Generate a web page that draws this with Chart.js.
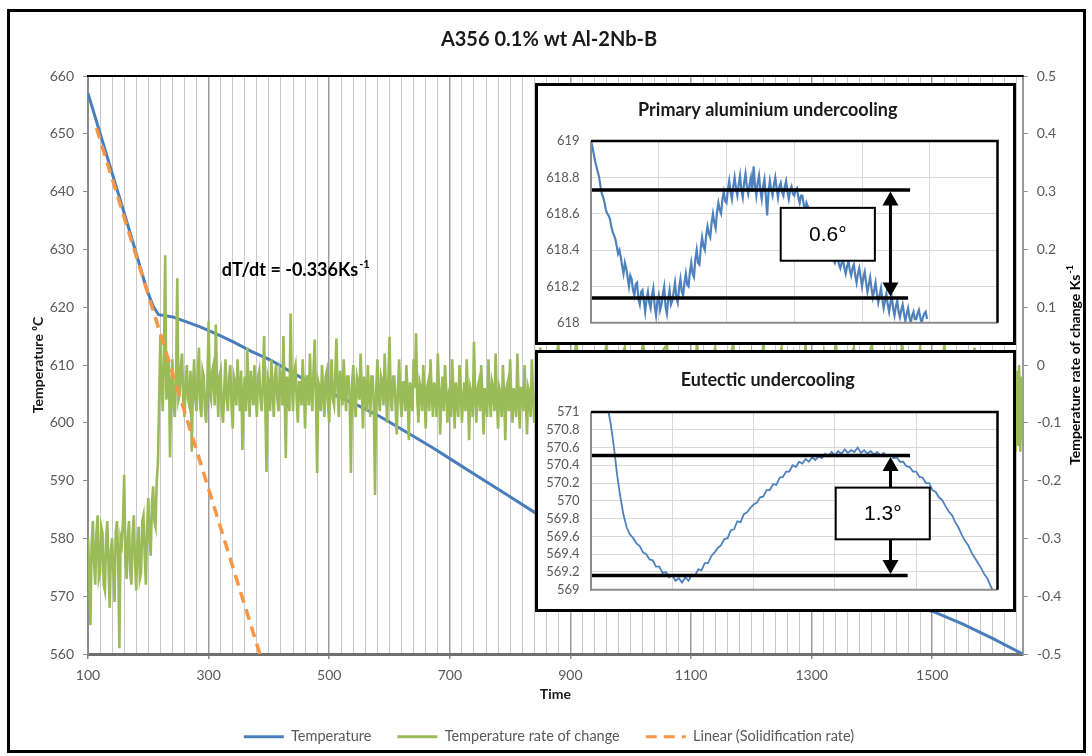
<!DOCTYPE html>
<html><head><meta charset="utf-8">
<script src="https://cdn.jsdelivr.net/npm/chart.js@4.4.1/dist/chart.umd.min.js"></script>
<style>
html,body{margin:0;padding:0;background:#fff;}
#page{position:relative;width:1092px;height:756px;overflow:hidden;background:#fff;}
#frame{position:absolute;left:7px;top:9px;width:1079px;height:744px;border:3px solid #000;box-sizing:border-box;pointer-events:none;}
#main{position:absolute;left:0;top:0;}
.inset{position:absolute;left:535px;width:481px;height:262px;border:3px solid #000;box-sizing:border-box;background:#fff;}
.inset canvas{position:absolute;left:0;top:0;}
</style></head>
<body><div id="page">
<canvas id="main" width="1092" height="756"></canvas>
<div class="inset" style="top:83px"><canvas id="c1" width="475" height="256"></canvas></div>
<div class="inset" style="top:350px"><canvas id="c2" width="475" height="256"></canvas></div>
<div id="frame"></div>
</div>
<script>
const FONT = 'Lato, "Liberation Sans", sans-serif';

// ---------- main chart data ----------
const chartTitle = 'A356 0.1% wt Al-2Nb-B';
const seriesNames = ['Temperature', 'Temperature rate of change', 'Linear (Solidification rate)'];
const xTickValues = [100, 300, 500, 700, 900, 1100, 1300, 1500];
const yLeftTicks = [560, 570, 580, 590, 600, 610, 620, 630, 640, 650, 660];
const yRightTicks = [-0.5, -0.4, -0.3, -0.2, -0.1, 0, 0.1, 0.2, 0.3, 0.4, 0.5];
const yRightLabels = ['-0.5', '-0.4', '-0.3', '-0.2', '-0.1', '0', '0.1', '0.2', '0.3', '0.4', '0.5'];

// Temperature (left axis)
const tempTime = [100,120,140,160,180,197,208,217,241,260,286,310,341,370,402,440,480,520,550,584,618,673,700,750,800,845,900,1000,1100,1200,1300,1400,1450,1503,1550,1600,1650];
const tempValue = [657.0,650.1,643.2,636.3,629.3,623.2,620.2,618.7,618.3,617.6,616.6,615.5,614.0,612.4,610.9,608.6,606.3,604.3,602.9,601.1,599.0,595.6,593.8,590.5,587.2,584.2,581.0,576.5,573.2,571.2,570.3,569.4,568.7,567.3,565.2,562.7,560.0];

// Temperature rate of change (right axis), sampled in three runs
const rateRunA = {start: 100, step: 2, values: [
 -0.30,-0.35,-0.45,-0.31,-0.27,-0.34,-0.38,-0.29,-0.26,-0.37,-0.36,-0.28,-0.29,-0.38,-0.39,-0.30,-0.27,-0.35,-0.42,-0.32,
 -0.30,-0.36,-0.41,-0.29,-0.27,-0.33,-0.49,-0.30,-0.31,-0.27,-0.19,-0.33,-0.37,-0.30,-0.27,-0.36,-0.38,-0.29,-0.26,-0.34,
 -0.39,-0.31,-0.28,-0.37,-0.36,-0.27,-0.26,-0.33,-0.38,-0.28,-0.23,-0.30,-0.33,-0.24,-0.21,-0.27,-0.28,-0.20,-0.17,-0.06,
 0.05,-0.04,-0.08,0.02,0.19,-0.06,-0.03,0.01,-0.16,-0.05,0.01,-0.07,-0.09,-0.02,0.15,-0.06,-0.05,0.00,0.02,-0.06,
 -0.09,-0.03,0.00,-0.06,-0.07,-0.01,-0.15,-0.04,0.01,-0.06,-0.08,-0.02,0.03,-0.07,-0.09,-0.01,-0.02,-0.08,-0.10,-0.03,
 0.075,-0.05,-0.06,-0.01,0.00,-0.07,0.07,-0.03,-0.09,-0.02,-0.01,-0.08,-0.10,-0.04,0.01,-0.06,-0.08,-0.02,0.00,-0.07,
 -0.11,-0.02,-0.03,-0.07,0.01,-0.04,-0.08,-0.01,-0.147,-0.05,-0.02,-0.08,0.03,-0.04,-0.09,-0.01,-0.04,-0.07,0.00,-0.05,
 -0.09,-0.02,-0.01,-0.06,-0.08,-0.03,0.05,-0.07,-0.185,-0.02,-0.03,-0.08,0.01,-0.04,-0.09,-0.02,0.00,-0.06,-0.08,-0.01,
 -0.02,-0.07,0.05,-0.04,-0.161,-0.02,-0.04,-0.08,0.089,-0.03,-0.08,-0.01,0.00,-0.06,-0.10,-0.03,-0.03,-0.07,0.01,-0.04,
 -0.11,-0.02,-0.02,-0.07,0.02,-0.05,-0.08,-0.01,0.044,-0.06,-0.187,-0.03,-0.04,-0.08,0.00,-0.05,-0.09,-0.02,-0.01,-0.07,
 -0.10,-0.03,0.01,-0.06,-0.07,-0.02,0.046,-0.05,-0.09,-0.01,-0.03,-0.07,0.01,-0.04,-0.08,-0.02,-0.02,-0.06,-0.187,-0.03,
 0.00,-0.07,-0.09,-0.02,-0.03,-0.06,0.02,-0.04,-0.11,-0.02,-0.04,-0.08,0.00,-0.05,-0.09,-0.02,-0.02,-0.07,-0.225,-0.04,
 0.01,-0.06,-0.08,-0.02,-0.03,-0.07,0.02,-0.04,-0.10,-0.03,0.049,-0.06,-0.08,-0.02,-0.02,-0.07,-0.12,-0.04,0.01,-0.06,
 -0.09,-0.03,-0.03,-0.08,0.00,-0.05,-0.13,-0.03,-0.05,-0.08,0.01,-0.04,0.055,-0.06,-0.10,-0.03,-0.04,-0.08,0.00,-0.05,
 -0.11,-0.04,-0.03,-0.08,0.01,-0.05,-0.09,-0.03,-0.05,-0.09,0.02,-0.04,-0.12,-0.05,-0.02,-0.08,0.00,-0.04,-0.10,-0.05,
 -0.04,-0.09,0.01,-0.05,-0.11,-0.03,-0.06,-0.09,0.00,-0.04,-0.10,-0.06,-0.03,-0.08,0.01,-0.05,-0.13,-0.04,-0.05,-0.09,
 0.04,-0.05,-0.10,-0.04,-0.03,-0.08,0.00,-0.05,-0.12,-0.04,-0.06,-0.09,0.01,-0.05,-0.09,-0.03,-0.04,-0.08,0.02,-0.06,
 -0.11,-0.04,-0.05,-0.09,0.00,-0.05,-0.13,-0.04,-0.03,-0.08,0.01,-0.06,-0.10,-0.04,-0.06,-0.09,0.02,-0.05,-0.11,-0.04,
 -0.04,-0.08,0.00,-0.06,-0.12,-0.04,-0.05,-0.09,0.01,-0.05,-0.10,-0.06,-0.04]};
const rateRunB = {start: 850, step: 10, values: [
 0.03,-0.10,-0.02,0.035,-0.11,-0.03,0.04,-0.09,0.01,-0.12,
 -0.02,0.035,-0.10,0.00,0.03,-0.08,-0.11,0.04,-0.03,-0.10,
 0.02,0.035,-0.12,-0.02,0.01,-0.09,0.04,-0.11,-0.03,0.03,
 -0.10,0.00,0.035,-0.12,-0.04,0.02,-0.09,0.04,-0.10,-0.02,
 0.03,-0.11,0.01,-0.08,0.035,-0.12,-0.03,0.02,-0.10,0.04,
 -0.09,-0.02,0.03,-0.12,0.00,0.035,-0.11,-0.04,0.02,-0.10,
 0.04,-0.08,-0.03,0.03,-0.12,0.01,-0.10,0.035,-0.05,-0.13,
 0.02,-0.09,0.03,-0.12,-0.02,0.01,-0.14,-0.03,0.00]};
const rateRunC = {start: 1632, step: 2, values: [-0.03,-0.12,0.00,-0.15,-0.01,-0.14,0.00,-0.15,-0.02,-0.13]};

// Linear trend line (Solidification rate) on the temperature axis
const linearTime = [114, 385];
const linearValue = [651.0, 560.0];

// ---------- inset data ----------
const inset1Title = 'Primary aluminium undercooling';
const inset1Time = {start: 0, step: 2};
const inset1Value = [
 619.00,618.97,618.93,618.89,618.86,618.83,618.80,618.75,618.71,618.69,618.66,618.62,618.60,618.59,618.57,618.53,618.50,618.48,618.46,618.42,
 618.38,618.40,618.36,618.31,618.27,618.33,618.30,618.25,618.20,618.26,618.24,618.18,618.15,618.21,618.22,618.13,618.10,618.17,618.18,618.12,
 618.06,618.13,618.17,618.11,618.08,618.15,618.19,618.09,618.04,618.12,618.15,618.07,618.10,618.16,618.20,618.09,618.05,618.13,618.18,618.10,
 618.12,618.17,618.22,618.14,618.11,618.19,618.24,618.17,618.15,618.22,618.27,618.21,618.20,618.28,618.33,618.27,618.25,618.35,618.40,618.33,
 618.32,618.41,618.47,618.42,618.40,618.48,618.53,618.49,618.47,618.55,618.60,618.55,618.52,618.61,618.66,618.62,618.60,618.68,618.72,618.67,
 618.66,618.73,618.78,618.72,618.68,618.75,618.80,618.74,618.70,618.76,618.81,618.73,618.69,618.77,618.82,618.75,618.71,618.76,618.80,618.72,
 618.86,618.76,618.70,618.77,618.81,618.73,618.68,618.75,618.79,618.70,618.59,618.72,618.78,618.73,618.70,618.76,618.80,618.74,618.69,618.75,
 618.77,618.72,618.70,618.75,618.78,618.72,618.68,618.73,618.75,618.71,618.70,618.73,618.74,618.69,618.66,618.70,618.70,618.65,618.62,618.66,
 618.64,618.61,618.60,618.59,618.57,618.55,618.55,618.52,618.50,618.50,618.48,618.45,618.44,618.44,618.42,618.40,618.39,618.38,618.37,618.35,
 618.33,618.36,618.37,618.32,618.30,618.33,618.35,618.30,618.27,618.31,618.34,618.29,618.26,618.30,618.32,618.26,618.22,618.27,618.30,618.25,
 618.20,618.25,618.28,618.22,618.17,618.21,618.25,618.19,618.14,618.18,618.22,618.16,618.11,618.15,618.19,618.13,618.08,618.12,618.16,618.10,
 618.06,618.11,618.14,618.08,618.04,618.09,618.12,618.06,618.03,618.07,618.10,618.05,618.01,618.05,618.08,618.03,618.00,618.04,618.06,618.02,
 618.02,618.05,618.07,618.03,618.00,618.03,618.05,618.06,618.02];
const inset1YTicks = [618, 618.2, 618.4, 618.6, 618.8, 619];
const inset1YLabels = ['618', '618.2', '618.4', '618.6', '618.8', '619'];
const inset1XGrid = [0, 100, 200, 300, 400, 500, 600];
const inset1Levels = [618.731, 618.136];
const inset1Label = '0.6°';

const inset2Title = 'Eutectic undercooling';
const inset2Time = {start: 20, step: 4};
const inset2Value = [
 571.08,570.88,570.62,570.30,570.05,569.84,569.70,569.62,569.58,569.52,
 569.49,569.42,569.40,569.34,569.33,569.26,569.26,569.19,569.20,569.14,
 569.16,569.10,569.13,569.08,569.14,569.10,569.17,569.16,569.23,569.22,
 569.30,569.30,569.38,569.42,569.47,569.50,569.57,569.58,569.67,569.68,
 569.77,569.76,569.85,569.87,569.92,569.96,569.98,570.04,570.05,570.12,
 570.12,570.19,570.18,570.26,570.27,570.33,570.33,570.40,570.38,570.44,
 570.42,570.47,570.44,570.49,570.46,570.50,570.48,570.53,570.50,570.55,
 570.51,570.56,570.53,570.58,570.54,570.57,570.55,570.60,570.54,570.57,
 570.53,570.56,570.52,570.55,570.51,570.54,570.50,570.52,570.48,570.49,
 570.44,570.44,570.39,570.38,570.33,570.33,570.27,570.26,570.20,570.20,
 570.12,570.10,570.04,570.01,569.94,569.88,569.84,569.76,569.70,569.62,
 569.55,569.50,569.42,569.36,569.30,569.24,569.17,569.12,569.03,568.97];
const inset2YTicks = [569, 569.2, 569.4, 569.6, 569.8, 570, 570.2, 570.4, 570.6, 570.8, 571];
const inset2YLabels = ['569', '569.2', '569.4', '569.6', '569.8', '570', '570.2', '570.4', '570.6', '570.8', '571'];
const inset2XGrid = [0, 100, 200, 300, 400, 500];
const inset2Levels = [570.51, 569.16];
const inset2Label = '1.3°';

// ---------- helpers ----------
function runPoints(run) {
  return run.values.map((v, i) => ({x: run.start + i * run.step, y: v}));
}
function pairPoints(xs, ys) { return xs.map((x, i) => ({x: x, y: ys[i]})); }

Chart.defaults.font.family = FONT;
Chart.defaults.animation = false;

// ---------- main chart ----------
const mainDecor = {
  id: 'mainDecor',
  afterDatasetsDraw(chart, args, o) {
    const {ctx, chartArea: a, scales} = chart;
    ctx.save();
    ctx.strokeStyle = '#000'; ctx.lineWidth = 2;
    ctx.beginPath(); ctx.moveTo(a.left - 1, a.top); ctx.lineTo(a.right + 1, a.top); ctx.stroke();
    // dT/dt note
    const px = scales.x.getPixelForValue(o.note.x), py = scales.y.getPixelForValue(o.note.y);
    ctx.fillStyle = '#000'; ctx.textAlign = 'left'; ctx.textBaseline = 'alphabetic';
    ctx.font = 'bold 18px ' + FONT;
    ctx.fillText(o.note.text, px, py);
    const w = ctx.measureText(o.note.text).width;
    ctx.font = 'bold 11px ' + FONT;
    ctx.fillText(o.note.sup, px + w + 1, py - 8);
    // right axis title (reads bottom to top)
    ctx.translate(o.rightTitle.x, (a.top + a.bottom) / 2);
    ctx.rotate(-Math.PI / 2);
    ctx.font = 'bold 14px ' + FONT;
    const w1 = ctx.measureText(o.rightTitle.text).width;
    ctx.font = 'bold 9px ' + FONT;
    const w2 = ctx.measureText(o.rightTitle.sup).width;
    const x0 = -(w1 + w2 + 1) / 2;
    ctx.textBaseline = 'middle';
    ctx.font = 'bold 14px ' + FONT;
    ctx.fillText(o.rightTitle.text, x0, 0);
    ctx.font = 'bold 9px ' + FONT;
    ctx.fillText(o.rightTitle.sup, x0 + w1 + 1, -5);
    ctx.restore();
  }
};

const isMajor = v => xTickValues.includes(v);
const xGrid = [];
for (let v = 100; v <= 1640; v += 20) xGrid.push(v);

new Chart(document.getElementById('main'), {
  type: 'line',
  data: {
    datasets: [
      {label: seriesNames[0], data: pairPoints(tempTime, tempValue), yAxisID: 'y',
       borderColor: '#4a7ebb', borderWidth: 3, pointRadius: 0, tension: 0, order: 3},
      {label: seriesNames[1], data: [...runPoints(rateRunA), ...runPoints(rateRunB), ...runPoints(rateRunC)], yAxisID: 'y2',
       borderColor: '#9bbb59', borderWidth: 2.6, pointRadius: 0, tension: 0, order: 2},
      {label: seriesNames[2], data: pairPoints(linearTime, linearValue), yAxisID: 'y',
       borderColor: '#f79646', borderWidth: 3.5, borderDash: [11, 7], pointRadius: 0, order: 1}
    ]
  },
  options: {
    responsive: false, devicePixelRatio: 1, animation: false,
    layout: {padding: {left: 10, right: 4, top: 10, bottom: 2}},
    plugins: {
      tooltip: {enabled: false},
      title: {display: true, text: chartTitle, color: '#1a1a1a', font: {size: 20, weight: 'bold'}, padding: {top: 18, bottom: 24}},
      legend: {
        position: 'bottom',
        labels: {
          usePointStyle: true, pointStyleWidth: 40, padding: 26, color: '#595959', font: {size: 14.5},
          generateLabels: chart => chart.data.datasets.map((ds, i) => ({
            text: ds.label, strokeStyle: ds.borderColor, fillStyle: ds.borderColor, lineWidth: 3,
            lineDash: ds.borderDash || [], pointStyle: 'line', hidden: false, datasetIndex: i, fontColor: '#595959'
          }))
        }
      },
      mainDecor: {
        note: {x: 322, y: 625.4, text: 'dT/dt = -0.336Ks', sup: '-1'},
        rightTitle: {x: 1075, text: 'Temperature rate of change Ks', sup: '-1'}
      }
    },
    scales: {
      x: {
        type: 'linear', position: 'bottom', min: 100, max: 1650,
        afterBuildTicks: s => { s.ticks = xGrid.map(v => ({value: v})); },
        afterFit: s => { s.height = 49.5; },
        ticks: {autoSkip: false, maxRotation: 0, padding: 8, color: '#595959', font: {size: 14},
                callback: v => isMajor(v) ? String(v) : ''},
        grid: {
          color: c => (c.tick && isMajor(c.tick.value)) ? '#9c9c9c' : '#c8c8c8',
          lineWidth: c => (c.tick && isMajor(c.tick.value)) ? 1.5 : 1,
          tickLength: 5,
          tickColor: c => (c.tick && isMajor(c.tick.value)) ? '#8c8c8c' : 'rgba(0,0,0,0)'
        },
        border: {color: '#6f6f6f', width: 3},
        title: {display: true, text: 'Time', color: '#1a1a1a', font: {size: 14, weight: 'bold'}, padding: {top: 0, bottom: 1.1}}
      },
      y: {
        position: 'left', min: 560, max: 660,
        afterBuildTicks: s => { s.ticks = yLeftTicks.map(v => ({value: v})); },
        afterFit: s => { s.width = 78; },
        ticks: {padding: 9, color: '#595959', font: {size: 14}, autoSkip: false},
        grid: {drawOnChartArea: false, tickLength: 5, tickColor: '#8c8c8c'},
        border: {color: '#8c8c8c', width: 2},
        title: {display: true, text: 'Temperature ⁰C', color: '#1a1a1a', font: {size: 14, weight: 'bold'}, padding: {top: 19.6, bottom: 0}}
      },
      y2: {
        position: 'right', min: -0.5, max: 0.5,
        afterBuildTicks: s => { s.ticks = yRightTicks.map(v => ({value: v})); },
        afterFit: s => { s.width = 65.3; },
        ticks: {padding: 9, color: '#595959', font: {size: 14}, autoSkip: false, callback: (v, i) => yRightLabels[i]},
        grid: {drawOnChartArea: false, tickLength: 5, tickColor: '#8c8c8c'},
        border: {color: '#9a9a9a', width: 2}
      }
    }
  },
  plugins: [mainDecor]
});

// ---------- insets ----------
const insetDecor = {
  id: 'insetDecor',
  afterDatasetsDraw(chart, args, o) {
    const {ctx, chartArea: a, scales: {x, y}} = chart;
    ctx.save();
    ctx.lineWidth = 2; ctx.strokeStyle = '#8c8c8c';
    ctx.beginPath(); ctx.moveTo(a.left, a.top); ctx.lineTo(a.left, a.bottom); ctx.lineTo(a.right, a.bottom); ctx.stroke();
    ctx.lineWidth = 2.5; ctx.strokeStyle = '#000';
    ctx.beginPath(); ctx.moveTo(a.left, a.top); ctx.lineTo(a.right, a.top); ctx.lineTo(a.right, a.bottom); ctx.stroke();
    const ax = x.getPixelForValue(o.arrowX);
    const yt = y.getPixelForValue(o.levels[0]) + 1.5, yb = y.getPixelForValue(o.levels[1]) - 1.5;
    ctx.lineWidth = 3; ctx.fillStyle = '#000';
    ctx.beginPath(); ctx.moveTo(ax, yt + 10); ctx.lineTo(ax, yb - 10); ctx.stroke();
    ctx.beginPath(); ctx.moveTo(ax, yt); ctx.lineTo(ax - 8, yt + 14); ctx.lineTo(ax + 8, yt + 14); ctx.closePath(); ctx.fill();
    ctx.beginPath(); ctx.moveTo(ax, yb); ctx.lineTo(ax - 8, yb - 14); ctx.lineTo(ax + 8, yb - 14); ctx.closePath(); ctx.fill();
    const bx0 = x.getPixelForValue(o.box[0]), bx1 = x.getPixelForValue(o.box[1]);
    const by0 = y.getPixelForValue(o.box[2]), by1 = y.getPixelForValue(o.box[3]);
    ctx.fillStyle = '#fff'; ctx.fillRect(bx0, by0, bx1 - bx0, by1 - by0);
    ctx.lineWidth = 2; ctx.strokeStyle = '#000'; ctx.strokeRect(bx0, by0, bx1 - bx0, by1 - by0);
    ctx.fillStyle = '#000'; ctx.font = '21px "Liberation Sans", Arial, sans-serif';
    ctx.textAlign = 'center'; ctx.textBaseline = 'middle';
    ctx.fillText(o.label, (bx0 + bx1) / 2, (by0 + by1) / 2 + 1);
    ctx.restore();
  }
};

function makeInset(id, c) {
  const pts = c.values.map((v, i) => ({x: c.time.start + i * c.time.step, y: v}));
  return new Chart(document.getElementById(id), {
    type: 'line',
    data: {datasets: [
      {data: pts, borderColor: '#4f81bd', borderWidth: c.lineWidth, pointRadius: 0, tension: 0, order: 2},
      {data: [{x: 0, y: c.levels[0]}, {x: c.lineEnd, y: c.levels[0]}], borderColor: '#000', borderWidth: 3.5, pointRadius: 0, order: 1},
      {data: [{x: -3, y: c.levels[1]}, {x: c.lineEnd - 3, y: c.levels[1]}], borderColor: '#000', borderWidth: 3.5, pointRadius: 0, order: 1}
    ]},
    options: {
      responsive: false, devicePixelRatio: 1, animation: false,
      layout: {padding: {left: 0, right: 15.5, top: 0, bottom: c.padBottom}},
      plugins: {
        legend: {display: false}, tooltip: {enabled: false},
        title: {display: true, text: c.title, color: '#1a1a1a', font: {size: 18, weight: 'bold'}, padding: {top: c.titleTop, bottom: c.titleBottom}},
        insetDecor: {levels: c.levels, arrowX: c.arrowX, box: c.box, label: c.label}
      },
      scales: {
        x: {type: 'linear', min: 0, max: c.xMax,
            afterBuildTicks: s => { s.ticks = c.xGrid.map(v => ({value: v})); },
            afterFit: s => { s.height = 0; },
            ticks: {display: false}, grid: {color: '#d9d9d9', drawTicks: false}, border: {display: false}},
        y: {min: c.yTicks[0], max: c.yTicks[c.yTicks.length - 1],
            afterBuildTicks: s => { s.ticks = c.yTicks.map(v => ({value: v})); },
            afterFit: s => { s.width = 53; },
            ticks: {padding: 11.5, color: '#595959', font: {size: 13}, autoSkip: false, callback: (v, i) => c.yLabels[i]},
            grid: {color: '#d9d9d9', drawTicks: false}, border: {display: false}}
      }
    },
    plugins: [insetDecor]
  });
}

makeInset('c1', {title: inset1Title, time: inset1Time, values: inset1Value, yTicks: inset1YTicks, yLabels: inset1YLabels,
  xGrid: inset1XGrid, xMax: 600, levels: inset1Levels, lineEnd: 471, arrowX: 442, box: [280, 419, 618.632, 618.341],
  label: inset1Label, lineWidth: 2.2, padBottom: 15, titleTop: 13.2, titleBottom: 20.2});
makeInset('c2', {title: inset2Title, time: inset2Time, values: inset2Value, yTicks: inset2YTicks, yLabels: inset2YLabels,
  xGrid: inset2XGrid, xMax: 500, levels: inset2Levels, lineEnd: 392.5, arrowX: 368.4, box: [301, 416.7, 570.149, 569.567],
  label: inset2Label, lineWidth: 1.8, padBottom: 16, titleTop: 16.2, titleBottom: 21.2});
</script>
</body></html>
